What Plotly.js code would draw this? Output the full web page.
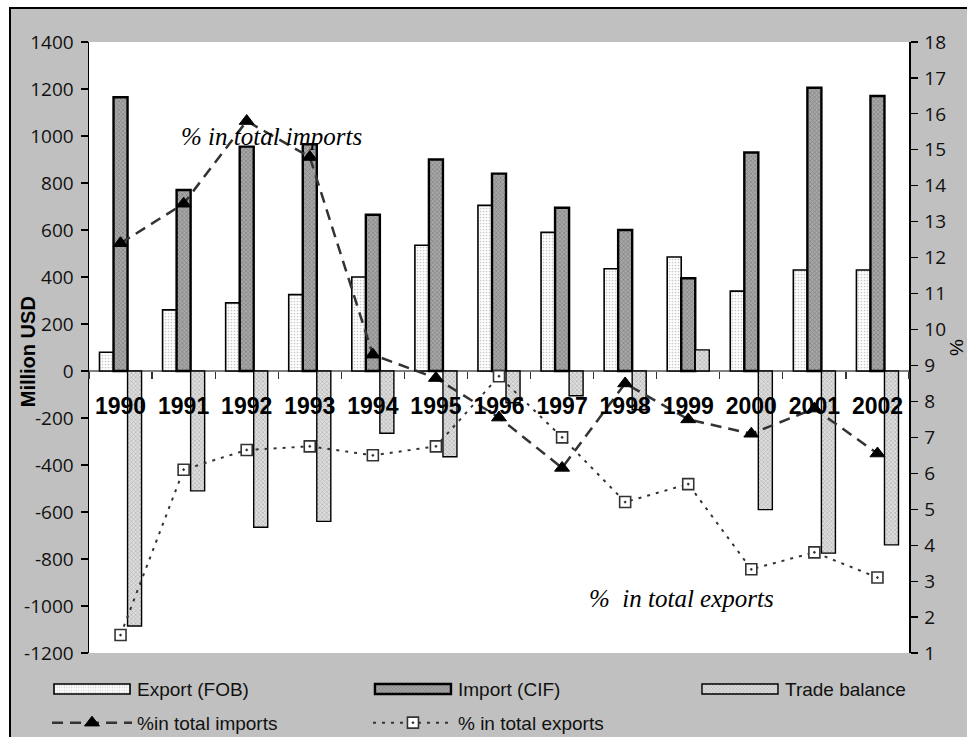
<!DOCTYPE html>
<html>
<head>
<meta charset="utf-8">
<script src="https://cdn.plot.ly/plotly-3.0.1.min.js"></script>
<style>
  html, body { margin: 0; padding: 0; background: #ffffff; }
  #wrap { position: absolute; left: 9px; top: 7px; width: 956px; height: 728px;
          border-left: 2px solid #000; border-top: 2px solid #000; background: #c0c0c0; }
  #chart { width: 956px; height: 728px; }
</style>
</head>
<body>
<div id="wrap"><div id="chart"></div></div>
<script>
// ---- data ----
const years = ['1990','1991','1992','1993','1994','1995','1996','1997','1998','1999','2000','2001','2002'];
const exportFOB = [80, 260, 290, 325, 400, 535, 705, 590, 435, 485, 340, 430, 430];
const importCIF = [1165, 770, 955, 965, 665, 900, 840, 695, 600, 395, 930, 1205, 1170];
const tradeBalance = [-1085, -510, -665, -640, -265, -365, -135, -105, -165, 90, -590, -775, -740];
const shareImports = [12.4, 13.5, 15.8, 14.8, 9.3, 8.65, 7.55, 6.15, 8.5, 7.5, 7.1, 7.8, 6.55];
const shareExports = [1.5, 6.1, 6.65, 6.75, 6.5, 6.75, 8.7, 7.0, 5.2, 5.7, 3.33, 3.8, 3.1];
const seriesNames = ['Export (FOB)', 'Import (CIF)', 'Trade balance', '%in total imports', '% in total exports'];
const leftTicks = [-1200, -1000, -800, -600, -400, -200, 0, 200, 400, 600, 800, 1000, 1200, 1400];
const leftTickText = ['-1200', '-1000', '-800', '-600', '-400', '-200', '0', '200', '400', '600', '800', '1000', '1200', '1400'];
const leftTitle = 'Million USD';
const rightTitle = '%';
const leftRange = [-1200, 1400];
const rightRange = [1, 18];

// ---- derived helpers ----
const zeroFrac = (0 - leftRange[0]) / (leftRange[1] - leftRange[0]);
const catRange = [-0.5, years.length - 0.5];
const boundaries = years.map((_, i) => i - 0.5).concat([years.length - 0.5]);

const traces = [
  { type: 'bar', name: seriesNames[0], x: years, y: exportFOB, yaxis: 'y', xaxis: 'x',
    legend: 'legend', legendgroup: 'g1',
    marker: { color: '#ffffff', line: { color: '#000', width: 1.6 },
              pattern: { shape: '.', bgcolor: '#ffffff', fgcolor: '#c8c8c8', size: 3, solidity: 0.25 } } },
  { type: 'bar', name: seriesNames[1], x: years, y: importCIF, yaxis: 'y', xaxis: 'x',
    legend: 'legend2', legendgroup: 'g2',
    marker: { color: '#9a9a9a', line: { color: '#000', width: 2.4 },
              pattern: { shape: 'x', bgcolor: '#a8a8a8', fgcolor: '#808080', size: 3, solidity: 0.4 } } },
  { type: 'bar', name: seriesNames[2], x: years, y: tradeBalance, yaxis: 'y', xaxis: 'x',
    legend: 'legend3', legendgroup: 'g3',
    marker: { color: '#d6d6d6', line: { color: '#000', width: 1.4 },
              pattern: { shape: 'x', bgcolor: '#dedede', fgcolor: '#b4b4b4', size: 3, solidity: 0.4 } } },
  { type: 'scatter', mode: 'lines+markers', name: seriesNames[3], x: years, y: shareImports,
    xaxis: 'x', yaxis: 'y2', legend: 'legend', legendgroup: 'g4',
    line: { color: '#333', width: 2.5, dash: '11px,7px' },
    marker: { symbol: 'triangle-up', size: 13, color: '#000', line: { color: '#000', width: 1 } } },
  { type: 'scatter', mode: 'lines+markers', name: seriesNames[4], x: years, y: shareExports,
    xaxis: 'x', yaxis: 'y2', legend: 'legend2', legendgroup: 'g5',
    line: { color: '#333', width: 2, dash: '3px,6px' },
    marker: { symbol: 'square-dot', size: 11, color: '#ffffff', line: { color: '#333', width: 1.6 } } }
];

const tickFont = { family: 'Open Sans, Liberation Sans, Arial, sans-serif', size: 19, color: '#111' };
const legendFont = { family: 'Liberation Sans, Arial, sans-serif', size: 19, color: '#111' };
const legendBase = { orientation: 'v', xanchor: 'left', y: -0.028, yanchor: 'top',
                     bgcolor: 'rgba(0,0,0,0)', itemwidth: 80, traceorder: 'grouped', tracegroupgap: 6,
                     font: legendFont };

const layout = {
  width: 956, height: 728,
  margin: { l: 78, r: 58, t: 33, b: 84, autoexpand: false },
  paper_bgcolor: '#c0c0c0', plot_bgcolor: '#ffffff',
  barmode: 'group', bargap: 0.333, bargroupgap: 0,
  showlegend: true,
  xaxis: { type: 'category', anchor: 'free', position: zeroFrac, range: catRange,
           showline: false, showgrid: false, zeroline: false,
           ticks: 'outside', ticklen: 7, tickwidth: 1.2, tickcolor: '#333', tickson: 'boundaries',
           ticklabelstandoff: 19,
           tickfont: { family: 'Liberation Sans, Arial, sans-serif', size: 23, color: '#000', weight: 'bold' } },
  xaxis2: { type: 'linear', overlaying: 'x', anchor: 'free', position: zeroFrac, range: catRange,
            tickvals: boundaries, ticks: 'inside', ticklen: 7, tickwidth: 1.2, tickcolor: '#333',
            showticklabels: false, showline: false, showgrid: false, zeroline: false },
  xaxis3: { type: 'linear', overlaying: 'x', anchor: 'y', range: [0, 1], showline: true, mirror: true,
            linecolor: '#808080', linewidth: 1.5, ticks: '', showticklabels: false, showgrid: false, zeroline: false },
  yaxis: { range: leftRange, tickmode: 'array', tickvals: leftTicks, ticktext: leftTickText, showgrid: false,
           zeroline: true, zerolinecolor: '#808080', zerolinewidth: 1.5,
           showline: true, linecolor: '#000', linewidth: 1.5,
           ticks: 'outside', ticklen: 7, tickwidth: 1.2, tickcolor: '#000', tickfont: tickFont,
           ticklabelstandoff: 3 },
  yaxis2: { overlaying: 'y', side: 'right', anchor: 'x', range: rightRange, dtick: 1, showgrid: false, zeroline: false,
            showline: true, linecolor: '#000', linewidth: 1.5,
            ticks: 'outside', ticklen: 7, tickwidth: 1.2, tickcolor: '#000', tickfont: tickFont,
            ticklabelstandoff: 3,
            title: { text: rightTitle, standoff: 3,
                     font: { family: 'Liberation Sans, Arial, sans-serif', size: 19, color: '#000' } } },
  yaxis3: { overlaying: 'y', anchor: 'x', range: leftRange, tickmode: 'array', tickvals: leftTicks, showgrid: false, zeroline: false,
            showline: false, ticks: 'inside', ticklen: 6, tickwidth: 1.2, tickcolor: '#000', showticklabels: false },
  yaxis4: { overlaying: 'y', side: 'right', anchor: 'x', range: rightRange, dtick: 1, showgrid: false, zeroline: false,
            showline: false, ticks: 'inside', ticklen: 6, tickwidth: 1.2, tickcolor: '#000', showticklabels: false },
  legend: Object.assign({}, legendBase, { x: -0.0512 }),
  legend2: Object.assign({}, legendBase, { x: 0.3402 }),
  legend3: Object.assign({}, legendBase, { x: 0.739 }),
  annotations: [
    { xref: 'paper', yref: 'paper', x: -0.075, y: 0.493, xanchor: 'center', yanchor: 'middle',
      textangle: -90, showarrow: false, text: '<b>' + leftTitle + '</b>',
      font: { family: 'Liberation Sans, Arial, sans-serif', size: 20, color: '#000' } },
    { xref: 'x', yref: 'y2', x: 2.4, y: 15.36, showarrow: false, text: '<i>% in total imports</i>',
      font: { family: 'Liberation Serif, Times New Roman, serif', size: 25, color: '#000' } },
    { xref: 'x', yref: 'y2', x: 8.9, y: 2.53, showarrow: false, text: '<i>%\u00a0 in total exports</i>',
      font: { family: 'Liberation Serif, Times New Roman, serif', size: 25, color: '#000' } }
  ]
};

// Widen the bar swatches in the legend to the long rectangles used by the original chart
function widenLegendSwatches() {
  document.querySelectorAll('#chart .legendpoints path.legendundefined').forEach(function (p) {
    p.setAttribute('d', 'M38,5H-38V-5H38Z');
  });
}

Plotly.newPlot('chart', traces, layout, { displayModeBar: false, staticPlot: true }).then(widenLegendSwatches);
</script>
</body>
</html>
